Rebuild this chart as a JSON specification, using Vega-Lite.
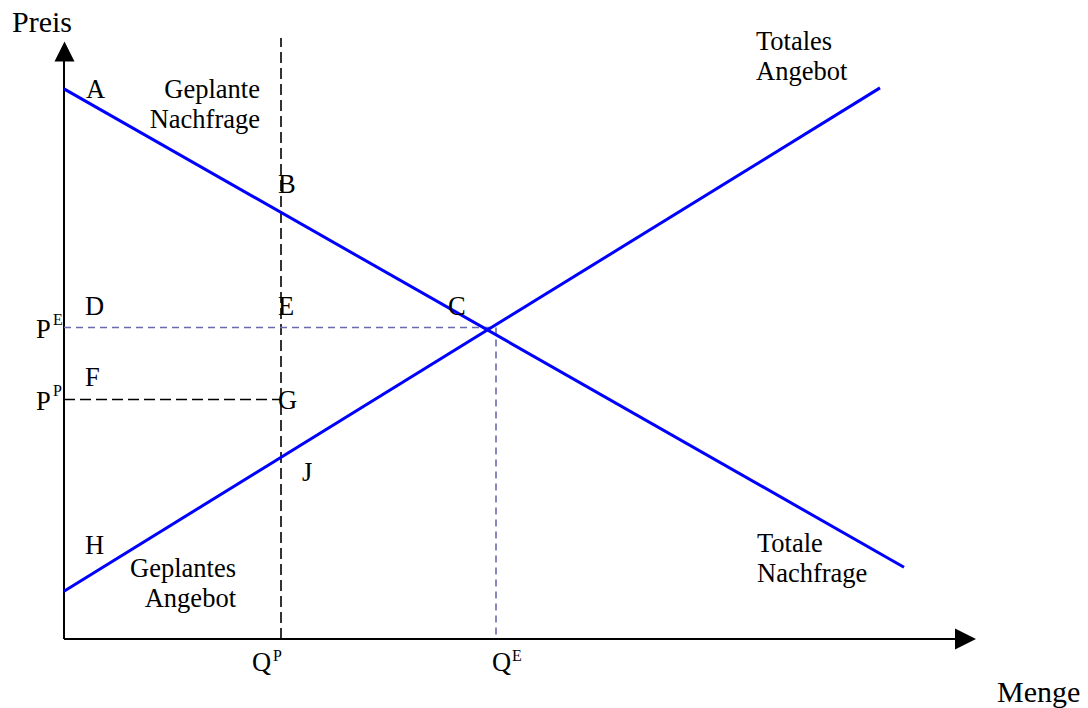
{
  "$schema": "https://vega.github.io/schema/vega-lite/v6.json",
  "width": 1088,
  "height": 708,
  "padding": 0,
  "autosize": {"type": "fit", "contains": "padding"},
  "background": "white",
  "config": {"view": {"stroke": null}},
  "layer": [
    {
      "data": {"values": [
        {"x1": 0, "y1": 0, "x2": 896, "y2": 0},
        {"x1": 0, "y1": 0, "x2": 0, "y2": 584}
      ]},
      "mark": {"type": "rule", "color": "black", "strokeWidth": 2},
      "encoding": {
        "x": {"field": "x1", "type": "quantitative", "scale": {"domain": [-64, 1024], "nice": false, "zero": false}, "axis": null},
        "y": {"field": "y1", "type": "quantitative", "scale": {"domain": [-68, 640], "nice": false, "zero": false}, "axis": null},
        "x2": {"field": "x2"},
        "y2": {"field": "y2"}
      }
    },
    {
      "data": {"values": [
        {"x": 901.5, "y": 0, "dir": "right"}
      ]},
      "mark": {"type": "point", "shape": "M-1,-1L1,0L-1,1Z", "filled": true, "color": "black", "opacity": 1, "size": 441},
      "encoding": {
        "x": {"field": "x", "type": "quantitative", "scale": {"domain": [-64, 1024], "nice": false, "zero": false}, "axis": null},
        "y": {"field": "y", "type": "quantitative", "scale": {"domain": [-68, 640], "nice": false, "zero": false}, "axis": null}
      }
    },
    {
      "data": {"values": [
        {"x": 0.5, "y": 588.5, "dir": "up"}
      ]},
      "mark": {"type": "point", "shape": "M-1,1L0,-1L1,1Z", "filled": true, "color": "black", "opacity": 1, "size": 400},
      "encoding": {
        "x": {"field": "x", "type": "quantitative", "scale": {"domain": [-64, 1024], "nice": false, "zero": false}, "axis": null},
        "y": {"field": "y", "type": "quantitative", "scale": {"domain": [-68, 640], "nice": false, "zero": false}, "axis": null}
      }
    },
    {
      "data": {"values": [
        {"x1": 217, "y1": 0, "x2": 217, "y2": 602},
        {"x1": 0, "y1": 240, "x2": 217, "y2": 240}
      ]},
      "mark": {"type": "rule", "color": "black", "strokeWidth": 1.6, "strokeDash": [11, 5]},
      "encoding": {
        "x": {"field": "x1", "type": "quantitative", "scale": {"domain": [-64, 1024], "nice": false, "zero": false}, "axis": null},
        "y": {"field": "y1", "type": "quantitative", "scale": {"domain": [-68, 640], "nice": false, "zero": false}, "axis": null},
        "x2": {"field": "x2"},
        "y2": {"field": "y2"}
      }
    },
    {
      "data": {"values": [
        {"x1": 0, "y1": 312, "x2": 432, "y2": 312},
        {"x1": 432, "y1": 312, "x2": 432, "y2": 0}
      ]},
      "mark": {"type": "rule", "color": "#6a6aae", "strokeWidth": 1.6, "strokeDash": [7, 5]},
      "encoding": {
        "x": {"field": "x1", "type": "quantitative", "scale": {"domain": [-64, 1024], "nice": false, "zero": false}, "axis": null},
        "y": {"field": "y1", "type": "quantitative", "scale": {"domain": [-68, 640], "nice": false, "zero": false}, "axis": null},
        "x2": {"field": "x2"},
        "y2": {"field": "y2"}
      }
    },
    {
      "data": {"values": [
        {"series": "Totale Nachfrage", "menge": 0, "preis": 551},
        {"series": "Totale Nachfrage", "menge": 840, "preis": 72},
        {"series": "Totales Angebot", "menge": 0, "preis": 48},
        {"series": "Totales Angebot", "menge": 816, "preis": 552}
      ]},
      "mark": {"type": "line", "color": "#0000ff", "strokeWidth": 3},
      "encoding": {
        "x": {"field": "menge", "type": "quantitative", "scale": {"domain": [-64, 1024], "nice": false, "zero": false}, "axis": null},
        "y": {"field": "preis", "type": "quantitative", "scale": {"domain": [-68, 640], "nice": false, "zero": false}, "axis": null},
        "detail": {"field": "series", "type": "nominal"}
      }
    },
    {
      "data": {"values": [
        {"x": -52, "y": 608, "label": "Preis"},
        {"x": 933, "y": -63, "label": "Menge"}
      ]},
      "mark": {"type": "text", "align": "left", "baseline": "alphabetic", "font": "Liberation Serif", "fontSize": 30, "color": "black"},
      "encoding": {
        "x": {"field": "x", "type": "quantitative", "scale": {"domain": [-64, 1024], "nice": false, "zero": false}, "axis": null},
        "y": {"field": "y", "type": "quantitative", "scale": {"domain": [-68, 640], "nice": false, "zero": false}, "axis": null},
        "text": {"field": "label"}
      }
    },
    {
      "data": {"values": [
        {"x": 22, "y": 542, "label": "A"},
        {"x": 214, "y": 447, "label": "B"},
        {"x": 384, "y": 325, "label": "C"},
        {"x": 21, "y": 325, "label": "D"},
        {"x": 214, "y": 325, "label": "E"},
        {"x": 21, "y": 253, "label": "F"},
        {"x": 214, "y": 230, "label": "G"},
        {"x": 21, "y": 85, "label": "H"},
        {"x": 238, "y": 158, "label": "J"},
        {"x": -28, "y": 302, "label": "P"},
        {"x": -28, "y": 229, "label": "P"},
        {"x": 188, "y": -32, "label": "Q"},
        {"x": 428, "y": -32, "label": "Q"},
        {"x": 692, "y": 590, "label": "Totales"},
        {"x": 692, "y": 560, "label": "Angebot"},
        {"x": 693, "y": 87, "label": "Totale"},
        {"x": 693, "y": 57, "label": "Nachfrage"}
      ]},
      "mark": {"type": "text", "align": "left", "baseline": "alphabetic", "font": "Liberation Serif", "fontSize": 26.5, "color": "black"},
      "encoding": {
        "x": {"field": "x", "type": "quantitative", "scale": {"domain": [-64, 1024], "nice": false, "zero": false}, "axis": null},
        "y": {"field": "y", "type": "quantitative", "scale": {"domain": [-68, 640], "nice": false, "zero": false}, "axis": null},
        "text": {"field": "label"}
      }
    },
    {
      "data": {"values": [
        {"x": 196, "y": 542, "label": "Geplante"},
        {"x": 196, "y": 512, "label": "Nachfrage"},
        {"x": 172, "y": 62, "label": "Geplantes"},
        {"x": 172, "y": 32, "label": "Angebot"}
      ]},
      "mark": {"type": "text", "align": "right", "baseline": "alphabetic", "font": "Liberation Serif", "fontSize": 26.5, "color": "black"},
      "encoding": {
        "x": {"field": "x", "type": "quantitative", "scale": {"domain": [-64, 1024], "nice": false, "zero": false}, "axis": null},
        "y": {"field": "y", "type": "quantitative", "scale": {"domain": [-68, 640], "nice": false, "zero": false}, "axis": null},
        "text": {"field": "label"}
      }
    },
    {
      "data": {"values": [
        {"x": -11, "y": 315, "label": "E"},
        {"x": -11, "y": 243, "label": "P"},
        {"x": 209, "y": -22, "label": "P"},
        {"x": 448, "y": -22, "label": "E"}
      ]},
      "mark": {"type": "text", "align": "left", "baseline": "alphabetic", "font": "Liberation Serif", "fontSize": 16, "color": "black"},
      "encoding": {
        "x": {"field": "x", "type": "quantitative", "scale": {"domain": [-64, 1024], "nice": false, "zero": false}, "axis": null},
        "y": {"field": "y", "type": "quantitative", "scale": {"domain": [-68, 640], "nice": false, "zero": false}, "axis": null},
        "text": {"field": "label"}
      }
    }
  ]
}
